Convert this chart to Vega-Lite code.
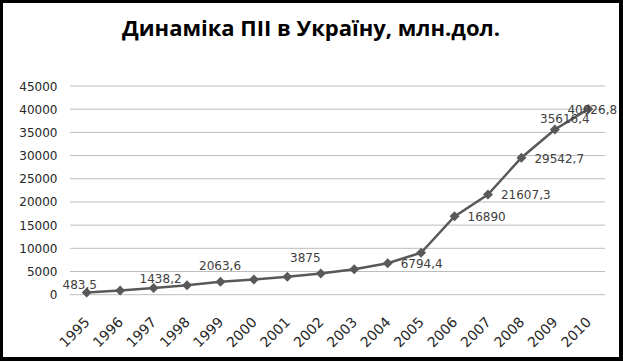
{
  "$schema": "https://vega.github.io/schema/vega-lite/v6.json",
  "autosize": {"type": "none"},
  "width": 620,
  "height": 358,
  "padding": {"left": 1, "top": 1, "right": 2, "bottom": 3},
  "background": "white",
  "title": {
    "text": "Динаміка ПІІ в Україну, млн.дол.",
    "font": "Open Sans",
    "fontWeight": "bold",
    "fontSize": 22,
    "color": "black",
    "anchor": "middle",
    "frame": "group",
    "baseline": "alphabetic",
    "offset": -57
  },
  "config": {
    "view": {"stroke": "black", "strokeWidth": 4},
    "axis": {"labelFont": "DejaVu Sans", "labelFontSize": 12, "labelColor": "#262626", "labelOverlap": false}
  },
  "datasets": {
    "fdi": [
      {"year": "1995", "value": 483.5, "label": "483,5"},
      {"year": "1996", "value": 896.8, "label": ""},
      {"year": "1997", "value": 1438.2, "label": "1438,2"},
      {"year": "1998", "value": 2063.6, "label": "2063,6"},
      {"year": "1999", "value": 2810.7, "label": ""},
      {"year": "2000", "value": 3281.8, "label": ""},
      {"year": "2001", "value": 3875, "label": "3875"},
      {"year": "2002", "value": 4555.3, "label": ""},
      {"year": "2003", "value": 5471.8, "label": ""},
      {"year": "2004", "value": 6794.4, "label": "6794,4"},
      {"year": "2005", "value": 9047, "label": ""},
      {"year": "2006", "value": 16890, "label": "16890"},
      {"year": "2007", "value": 21607.3, "label": "21607,3"},
      {"year": "2008", "value": 29542.7, "label": "29542,7"},
      {"year": "2009", "value": 35616.4, "label": "35616,4"},
      {"year": "2010", "value": 40026.8, "label": "40026,8"}
    ],
    "grid": [
      {"v": 0}, {"v": 5000}, {"v": 10000}, {"v": 15000}, {"v": 20000},
      {"v": 25000}, {"v": 30000}, {"v": 35000}, {"v": 40000}, {"v": 45000}
    ]
  },
  "layer": [
    {
      "data": {"name": "grid"},
      "mark": {"type": "rule", "color": "#bdbdbd", "strokeWidth": 1},
      "encoding": {
        "y": {"field": "v", "type": "quantitative", "title": null},
        "x": {"datum": "1995", "type": "ordinal", "bandPosition": 0, "title": null},
        "x2": {"datum": "2010", "bandPosition": 1}
      }
    },
    {
      "data": {"name": "fdi"},
      "mark": {"type": "line", "color": "#595959", "strokeWidth": 2.5,
        "point": {"shape": "diamond", "filled": true, "size": 100, "color": "#595959", "opacity": 1}},
      "encoding": {
        "x": {
          "field": "year", "type": "ordinal", "title": null,
          "scale": {"type": "band", "paddingInner": 0, "paddingOuter": 0, "range": [69, 604]},
          "axis": {
            "orient": "bottom", "offset": -64.3, "labelAngle": -45, "labelAlign": "right", "labelBaseline": "middle",
            "labelPadding": 25, "labelOffset": 1, "labelFontSize": 14, "labelOverlap": false,
            "domain": false, "ticks": false, "grid": false, "title": null
          }
        },
        "y": {
          "field": "value", "type": "quantitative", "title": null,
          "scale": {"domain": [-13864, 63328], "nice": false, "zero": false},
          "axis": {
            "orient": "left", "offset": -66, "values": [0, 5000, 10000, 15000, 20000, 25000, 30000, 35000, 40000, 45000],
            "tickCount": 20, "labelOverlap": false, "grid": false, "domain": false, "ticks": false, "labelPadding": 10, "title": null, "format": "d"
          }
        }
      }
    },
    {
      "data": {"name": "fdi"},
      "transform": [{"filter": {"field": "year", "oneOf": ["1995"]}}],
      "mark": {"type": "text", "font": "DejaVu Sans", "fontSize": 12, "color": "#404040", "baseline": "middle", "align": "center", "dx": -7, "dy": -7},
      "encoding": {"x": {"field": "year", "type": "ordinal", "title": null}, "y": {"field": "value", "type": "quantitative", "title": null}, "text": {"field": "label"}}
    },
    {
      "data": {"name": "fdi"},
      "transform": [{"filter": {"field": "year", "oneOf": ["1997"]}}],
      "mark": {"type": "text", "font": "DejaVu Sans", "fontSize": 12, "color": "#404040", "baseline": "middle", "align": "center", "dx": 7, "dy": -9},
      "encoding": {"x": {"field": "year", "type": "ordinal", "title": null}, "y": {"field": "value", "type": "quantitative", "title": null}, "text": {"field": "label"}}
    },
    {
      "data": {"name": "fdi"},
      "transform": [{"filter": {"field": "year", "oneOf": ["1998"]}}],
      "mark": {"type": "text", "font": "DejaVu Sans", "fontSize": 12, "color": "#404040", "baseline": "middle", "align": "center", "dx": 33, "dy": -19},
      "encoding": {"x": {"field": "year", "type": "ordinal", "title": null}, "y": {"field": "value", "type": "quantitative", "title": null}, "text": {"field": "label"}}
    },
    {
      "data": {"name": "fdi"},
      "transform": [{"filter": {"field": "year", "oneOf": ["2001"]}}],
      "mark": {"type": "text", "font": "DejaVu Sans", "fontSize": 12, "color": "#404040", "baseline": "middle", "align": "center", "dx": 18, "dy": -19},
      "encoding": {"x": {"field": "year", "type": "ordinal", "title": null}, "y": {"field": "value", "type": "quantitative", "title": null}, "text": {"field": "label"}}
    },
    {
      "data": {"name": "fdi"},
      "transform": [{"filter": {"field": "year", "oneOf": ["2004", "2006", "2007", "2008"]}}],
      "mark": {"type": "text", "font": "DejaVu Sans", "fontSize": 12, "color": "#404040", "baseline": "middle", "align": "left", "dx": 13, "dy": 1},
      "encoding": {"x": {"field": "year", "type": "ordinal", "title": null}, "y": {"field": "value", "type": "quantitative", "title": null}, "text": {"field": "label"}}
    },
    {
      "data": {"name": "fdi"},
      "transform": [{"filter": {"field": "year", "oneOf": ["2009"]}}],
      "mark": {"type": "text", "font": "DejaVu Sans", "fontSize": 12, "color": "#404040", "baseline": "middle", "align": "center", "dx": 10, "dy": -11},
      "encoding": {"x": {"field": "year", "type": "ordinal", "title": null}, "y": {"field": "value", "type": "quantitative", "title": null}, "text": {"field": "label"}}
    },
    {
      "data": {"name": "fdi"},
      "transform": [{"filter": {"field": "year", "oneOf": ["2010"]}}],
      "mark": {"type": "text", "font": "DejaVu Sans", "fontSize": 12, "color": "#404040", "baseline": "middle", "align": "center", "dx": 4, "dy": 1},
      "encoding": {"x": {"field": "year", "type": "ordinal", "title": null}, "y": {"field": "value", "type": "quantitative", "title": null}, "text": {"field": "label"}}
    }
  ]
}
